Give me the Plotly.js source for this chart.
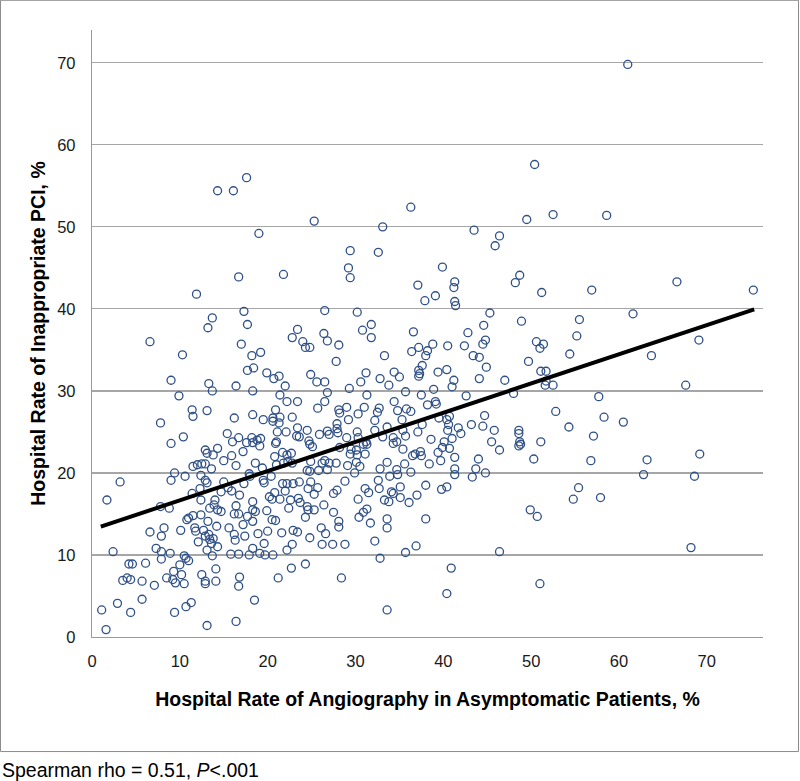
<!DOCTYPE html>
<html>
<head>
<meta charset="utf-8">
<script src="https://cdn.plot.ly/plotly-3.0.1.min.js"></script>
<style>
  html, body { margin: 0; padding: 0; background: #ffffff; }
  #chart { width: 800px; height: 781px; }
</style>
</head>
<body>
<div id="chart"></div>
<script>
// Hospital Rate of Angiography in Asymptomatic Patients, % (x) vs Hospital Rate of Inappropriate PCI, % (y)
const angiographyRate = [
14.3,16.1,17.6,19.0,25.3,29.4,32.6,33.1,36.3,50.4,43.5,46.4,45.9,49.5,52.5,61.0,58.6,
16.7,11.9,17.3,13.7,13.2,17.7,6.6,17.0,10.3,18.2,17.7,18.4,9.0,13.3,13.7,16.4,18.3,9.9,11.4,11.5,13.1,16.2,18.3,7.8,10.4,15.4,16.7,16.0,17.6,18.2,9.0,
21.8,29.2,29.4,37.1,26.5,30.2,31.8,23.4,22.8,26.4,30.8,31.8,26.8,24.0,24.3,24.8,28.1,36.6,36.4,37.2,33.3,27.8,19.2,19.9,20.7,21.3,24.9,25.6,26.5,26.8,22.0,29.3,30.6,31.2,32.8,33.8,34.4,35.0,35.7,31.3,21.4,22.2,23.4,26.5,25.7,28.1,29.0,28.2,31.0,32.7,32.5,34.4,34.8,35.8,36.3,20.9,19.5,20.6,21.4,20.6,21.3,22.8,29.2,30.3,32.2,33.6,35.3,21.1,22.1,23.4,24.5,23.3,23.6,25.9,26.8,27.0,27.9,27.9,28.0,29.0,30.2,30.3,31.2,32.2,33.1,34.3,34.7,35.4,35.7,19.2,18.8,21.0,24.7,
39.9,41.3,41.2,39.1,37.9,41.3,41.4,48.2,48.7,51.2,45.3,48.9,44.6,55.5,55.2,42.8,38.8,38.2,40.5,42.4,44.8,44.5,38.0,43.4,44.1,50.6,51.4,51.0,54.4,49.7,44.9,37.6,37.2,37.2,37.3,39.4,40.4,41.2,41.0,44.1,47.0,51.1,51.7,51.6,51.7,52.5,38.9,37.5,42.6,48.0,38.2,39.1,39.2,52.8,39.5,40.4,40.7,40.6,40.5,37.6,37.1,41.7,42.0,43.2,44.5,44.7,45.8,48.6,48.6,48.7,54.3,38.6,40.1,41.0,45.5,51.1,
56.9,66.6,75.3,61.6,69.1,63.7,67.6,57.7,58.3,60.5,57.1,
56.8,63.2,69.2,62.8,68.6,55.4,57.9,68.2,
37.4,37.5,36.8,39.4,39.9,40.7,41.3,39.7,38.4,41.3,41.3,44.0,43.7,44.8,43.3,46.4,48.6,48.8,50.3,38.0,37.0,39.8,40.4,54.8,49.9,50.7,38.0,36.9,46.4,40.9,51.0,40.4,
18.3,19.1,20.9,24.8,25.1,28.2,29.5,30.9,31.3,30.1,29.4,30.2,31.1,34.3,35.4,36.5,20.8,21.7,22.2,22.7,18.6,19.4,21.0,21.8,22.3,22.8,24.9,24.5,24.8,25.8,26.2,26.5,27.0,26.8,27.8,29.1,30.1,30.5,29.9,33.6,32.8,33.9,34.7,34.8,35.6,36.3,18.0,19.5,19.6,20.4,21.7,22.2,22.9,23.6,24.9,24.6,25.7,25.3,22.0,20.8,20.2,20.5,21.4,22.6,23.5,23.7,22.4,24.5,24.6,25.3,26.4,27.5,27.9,28.8,27.5,24.3,18.6,19.9,20.5,20.9,18.9,20.0,21.6,22.9,23.4,24.8,26.1,26.6,28.1,28.1,19.6,19.1,19.7,20.6,22.2,22.8,26.2,27.4,28.8,22.7,24.3,21.2,28.4,18.5,33.6,30.3,30.9,31.3,30.4,31.7,31.1,31.5,32.6,32.7,33.3,33.8,34.1,34.3,35.1,35.1,36.1,33.6,33.6,32.2,32.8,35.7,
12.9,13.1,13.8,14.3,15.0,15.9,17.2,16.4,11.5,12.0,12.5,12.9,13.6,9.4,9.0,10.6,12.4,12.9,13.1,3.2,15.0,15.5,14.7,15.9,17.3,17.9,12.3,11.4,12.4,14.0,13.9,14.3,14.7,13.4,16.8,16.4,16.2,16.7,17.7,18.3,18.3,18.3,1.7,7.8,8.8,12.4,11.5,10.8,11.0,13.2,14.2,15.6,17.2,6.6,8.2,7.9,10.1,11.7,11.8,12.1,12.7,12.9,13.3,13.8,13.4,13.6,14.3,13.1,16.2,16.3,17.4,18.3,13.7,15.8,16.7,17.9,7.3,7.9,8.9,7.9,10.5,10.7,11.0,10.0,2.4,4.2,4.6,6.1,9.3,8.5,9.2,9.5,10.2,10.5,3.5,4.0,4.4,5.7,7.1,12.5,12.9,12.9,14.1,14.1,16.8,16.7,5.7,2.9,1.1,4.4,9.4,10.7,11.3,1.6,13.1,16.4
];
const inappropriatePCI = [
54.4,54.4,56.0,49.2,50.7,47.1,46.9,50.0,52.4,57.6,49.6,48.9,47.7,50.9,51.5,69.8,51.4,
43.9,41.8,39.7,38.9,37.7,38.1,36.0,35.7,34.4,34.3,32.5,32.8,31.3,30.9,30.0,30.6,30.0,29.4,27.7,26.9,27.6,26.7,27.1,26.1,24.4,24.8,24.3,23.8,23.7,24.3,23.6,
44.2,45.0,43.8,42.9,39.8,39.6,38.1,37.5,36.5,37.0,37.4,36.5,36.1,36.0,35.3,35.3,35.6,37.2,34.8,35.3,34.3,33.6,34.7,32.2,31.5,31.8,32.0,31.1,31.1,29.8,30.6,30.3,31.1,32.2,31.5,30.7,32.3,31.7,29.9,29.5,29.5,28.7,28.7,28.7,27.9,27.7,28.0,27.3,28.0,27.9,27.4,28.7,27.6,27.8,27.5,27.7,26.5,26.7,26.8,26.3,26.1,26.8,26.5,27.2,26.4,25.6,26.5,25.0,25.0,25.5,25.2,24.5,24.4,24.7,25.1,24.7,26.0,25.4,24.9,24.3,25.0,24.3,23.8,25.2,24.4,24.3,23.8,25.2,24.5,24.2,24.0,23.8,23.9,
45.1,43.3,42.6,41.6,41.0,40.9,40.4,43.2,44.1,42.0,39.5,38.5,38.0,38.7,36.7,37.1,35.7,34.9,35.5,35.5,36.2,35.7,34.3,34.3,34.1,36.0,35.7,35.2,34.5,33.6,32.9,33.1,32.5,31.8,32.1,32.3,32.6,31.3,30.5,31.5,31.3,32.4,32.4,30.7,31.2,30.7,30.2,29.5,29.4,29.7,28.3,28.7,28.4,27.5,26.7,26.5,26.9,25.9,25.2,25.9,25.0,25.5,24.8,25.9,25.7,27.0,25.2,25.2,24.8,23.8,25.6,24.1,23.8,24.2,23.8,23.8,
42.3,43.3,42.3,39.4,36.2,34.3,30.7,29.3,26.8,26.2,24.5,
21.5,21.6,22.3,19.8,19.6,18.2,17.0,10.9,
22.6,22.1,22.3,22.5,23.1,23.0,21.9,21.5,21.1,20.5,19.8,21.7,20.5,20.0,19.5,22.8,23.3,23.5,21.7,18.5,17.3,18.0,18.3,16.8,15.5,14.7,14.4,11.1,10.4,8.4,6.5,5.3,
23.7,23.3,23.6,23.5,23.2,23.1,22.9,23.5,23.5,22.8,22.3,22.2,22.3,23.6,22.9,22.1,22.0,22.5,22.2,22.4,21.2,20.6,21.0,21.2,21.4,21.2,21.4,20.3,20.2,20.3,21.2,21.5,21.2,20.4,21.2,20.9,21.3,20.8,20.0,21.3,20.5,19.6,20.4,19.8,21.1,20.1,19.6,19.1,18.8,19.6,18.7,18.7,18.7,18.9,18.9,18.1,18.2,17.4,17.8,17.6,17.1,16.8,16.8,16.7,16.9,16.4,15.7,15.9,15.5,15.5,16.1,17.5,17.9,19.0,15.2,14.6,15.3,15.4,14.3,14.2,12.6,12.9,12.7,13.0,12.8,12.1,13.3,12.6,14.1,13.4,11.4,10.2,10.0,10.0,10.6,11.3,11.3,11.3,11.3,8.4,8.9,7.2,7.2,4.5,3.3,16.8,15.2,15.6,14.6,13.9,18.1,17.6,19.1,18.1,16.7,16.5,17.7,17.5,18.3,17.0,16.4,14.4,13.3,11.7,9.6,10.3,
22.8,22.4,22.2,23.0,21.5,22.1,22.6,20.9,20.8,21.0,21.1,21.1,20.5,20.0,19.1,19.6,19.7,19.1,18.8,18.9,18.9,18.2,17.7,17.8,18.7,19.9,18.1,17.5,16.7,16.7,16.1,15.5,15.3,15.7,17.3,16.0,15.0,15.0,14.7,16.5,15.5,14.1,16.7,15.9,15.7,14.9,14.8,14.3,14.5,14.1,13.5,13.3,13.7,12.8,13.3,12.3,13.0,13.3,12.9,11.6,13.0,12.3,12.5,12.0,11.9,11.4,11.0,10.6,12.5,11.8,12.3,10.8,9.9,10.1,10.1,10.0,10.8,10.4,10.2,9.5,9.9,9.6,9.3,8.8,10.4,8.9,8.9,9.0,8.0,7.2,7.0,6.6,7.6,6.5,6.9,7.2,7.0,6.8,6.3,7.6,6.8,6.5,6.8,8.3,7.3,6.2,4.6,4.1,3.3,3.0,3.0,3.7,4.2,0.9,1.4,1.9
];
// Fitted regression line
const fitIntercept = 13.1;
const fitSlope = 0.356;
const fitXRange = [1.0, 75.4];
const yTicks = [0, 10, 20, 30, 40, 50, 60, 70];
const xTicks = [0, 10, 20, 30, 40, 50, 60, 70];

const fitX = fitXRange;
const fitY = fitXRange.map(v => fitIntercept + fitSlope * v);

const W = 800, H = 781;
const L = 92, R = 763, B = 637;
const yMax = 74;
const pxPerY = 8.2;
const T = B - yMax * pxPerY;
const plotW = R - L, plotH = B - T;
const px2paperX = p => (p - L) / plotW;
const px2paperY = p => (B - p) / plotH;

const font = 'Liberation Sans, Arial, sans-serif';

const traces = [
  {
    type: 'scatter', mode: 'markers',
    x: angiographyRate, y: inappropriatePCI,
    marker: { symbol: 'circle-open', size: 8, color: '#2F5087', line: { width: 1.3, color: '#2F5087' } },
    hoverinfo: 'x+y', showlegend: false
  },
  {
    type: 'scatter', mode: 'lines',
    x: fitX, y: fitY,
    line: { color: '#000000', width: 4 },
    hoverinfo: 'skip', showlegend: false
  }
];

const layout = {
  width: W, height: H,
  margin: { l: L, r: W - R, t: T, b: H - B, pad: 0 },
  paper_bgcolor: '#ffffff', plot_bgcolor: '#ffffff',
  font: { family: font, size: 16, color: '#1a1a1a' },
  showlegend: false,
  xaxis: {
    range: [0, 76.4], tickvals: xTicks, ticktext: xTicks.map(String),
    showgrid: false, zeroline: false,
    showline: true, linecolor: '#9a9a9a', linewidth: 1.2,
    ticks: '', ticklabelstandoff: 9,
    tickfont: { family: font, size: 16.5, color: '#1a1a1a' },
    title: { text: '<b>Hospital Rate of Angiography in Asymptomatic Patients, %</b>', font: { family: font, size: 19.5, color: '#000' }, standoff: 23 }
  },
  yaxis: {
    range: [0, yMax], tickvals: yTicks, ticktext: yTicks.map(String),
    showgrid: true, gridcolor: '#a6a6a6', gridwidth: 1.2,
    zeroline: false,
    showline: true, linecolor: '#9a9a9a', linewidth: 1.2,
    ticks: '', ticklabelstandoff: 12,
    tickfont: { family: font, size: 16.5, color: '#1a1a1a' },
    title: { text: '<b>Hospital Rate of Inappropriate PCI, %</b>', font: { family: font, size: 19.5, color: '#000' }, standoff: 6 }
  },
  shapes: [
    { type: 'rect', xref: 'paper', yref: 'paper',
      x0: px2paperX(0.5), x1: px2paperX(798.5), y0: px2paperY(751.5), y1: px2paperY(0.5),
      line: { color: '#8c8c8c', width: 1 }, fillcolor: 'rgba(0,0,0,0)', layer: 'below' }
  ],
  annotations: [
    { xref: 'paper', yref: 'paper', x: px2paperX(0), y: px2paperY(770), xanchor: 'left', yanchor: 'middle',
      text: 'Spearman rho = 0.51, <i>P</i><.001', showarrow: false,
      font: { family: font, size: 19.5, color: '#000' } }
  ]
};

Plotly.newPlot('chart', traces, layout, { displayModeBar: false, staticPlot: true });
</script>
</body>
</html>
